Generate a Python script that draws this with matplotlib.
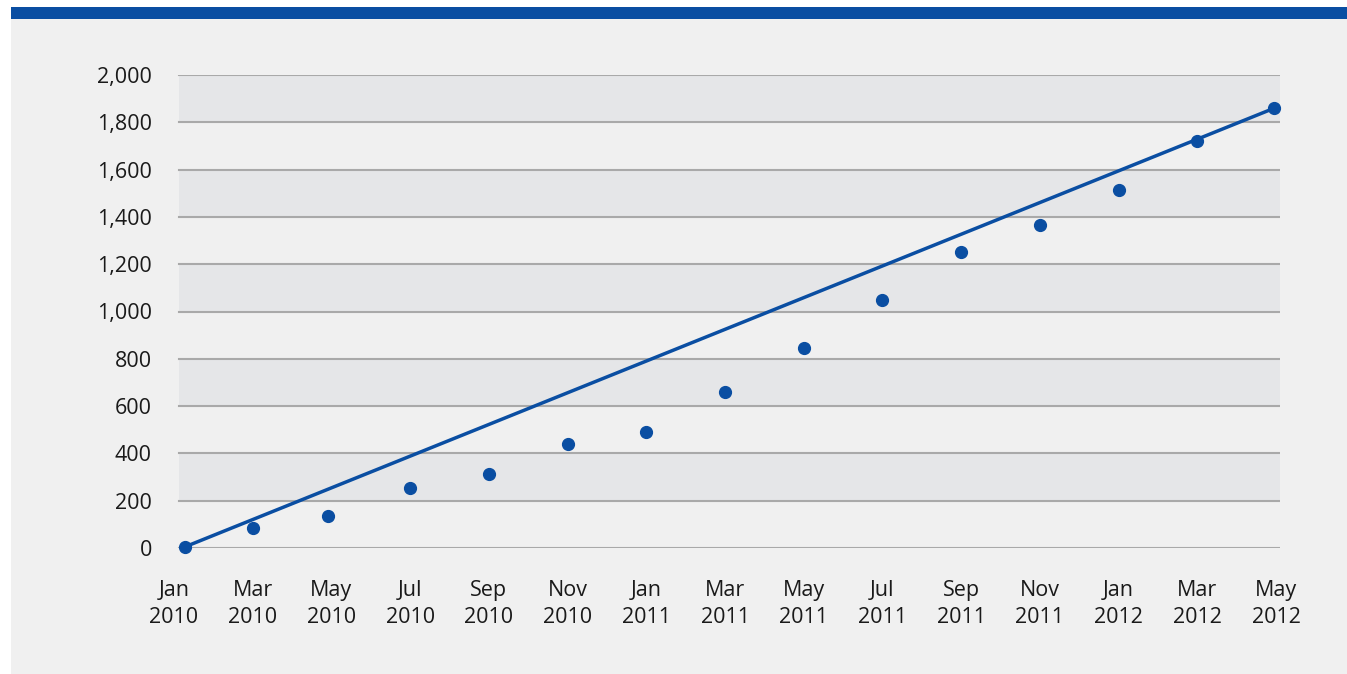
import matplotlib.pyplot as plt
from matplotlib.patches import Rectangle

# data
months = ['Jan\n2010', 'Mar\n2010', 'May\n2010', 'Jul\n2010', 'Sep\n2010',
          'Nov\n2010', 'Jan\n2011', 'Mar\n2011', 'May\n2011', 'Jul\n2011',
          'Sep\n2011', 'Nov\n2011', 'Jan\n2012', 'Mar\n2012', 'May\n2012']
# position of each point in tick units (two-month steps)
point_pos = [0.14, 1, 1.96, 3, 4, 5, 6, 7, 8, 9, 10, 11, 12, 13, 13.98]
values = [5, 85, 135, 255, 315, 440, 490, 660, 845, 1050,
          1250, 1365, 1515, 1720, 1860]
trend_values = [5, 1860]
y_ticks = [0, 200, 400, 600, 800, 1000, 1200, 1400, 1600, 1800, 2000]

blue = '#0a4ea2'
panel_bg = '#f0f0f0'
band_bg = '#e5e6e8'
grid_col = '#a9a9a9'
text_col = '#1a1a1a'

plt.rcParams['font.family'] = ['Open Sans', 'DejaVu Sans']

fig = plt.figure(figsize=(13.47, 6.74), dpi=100)
fig.patch.set_facecolor('white')

# grey panel and blue strip on top
fig.patches.append(Rectangle((11 / 1347, 0), 1 - 11 / 1347, 1 - 7 / 674,
                             transform=fig.transFigure, facecolor=panel_bg,
                             edgecolor='none', zorder=-2))
fig.patches.append(Rectangle((11 / 1347, 1 - 19 / 674), 1 - 11 / 1347, 12 / 674,
                             transform=fig.transFigure, facecolor=blue,
                             edgecolor='none', zorder=-1))

ax = fig.add_axes([170 / 1347, 1 - 548 / 674, (1280 - 170) / 1347, (548 - 75) / 674])
ax.set_facecolor('none')
grid_start = 9 / 1110  # gridlines start a little right of the first tick

# alternating bands
for i in range(1, len(y_ticks) - 1, 2):
    ax.axhspan(y_ticks[i], y_ticks[i + 1], xmin=grid_start, xmax=1,
               facecolor=band_bg, edgecolor='none', zorder=0)
for y in y_ticks:
    ax.axhline(y, xmin=grid_start, xmax=1, color=grid_col, linewidth=1.5, zorder=1)

ax.plot([point_pos[0], point_pos[-1]], trend_values, color=blue, linewidth=2.5,
        zorder=3, solid_capstyle='round')
ax.plot(point_pos, values, 'o', color=blue, markersize=8.5, zorder=4, clip_on=False)

ax.set_xlim(-4 / 78.71, len(months) - 1 + 4 / 78.71)
ax.set_ylim(0, 2000)
ax.set_yticks(y_ticks)
ax.set_yticklabels([f'{v:,}' for v in y_ticks])
ax.set_xticks(range(len(months)))
ax.set_xticklabels(months, linespacing=1.4)

for s in ax.spines.values():
    s.set_visible(False)
ax.tick_params(axis='both', length=0, labelsize=15.5, colors=text_col)
ax.tick_params(axis='y', pad=13)
ax.tick_params(axis='x', pad=23)

fig.savefig('out.png', dpi=100, facecolor=fig.get_facecolor())
